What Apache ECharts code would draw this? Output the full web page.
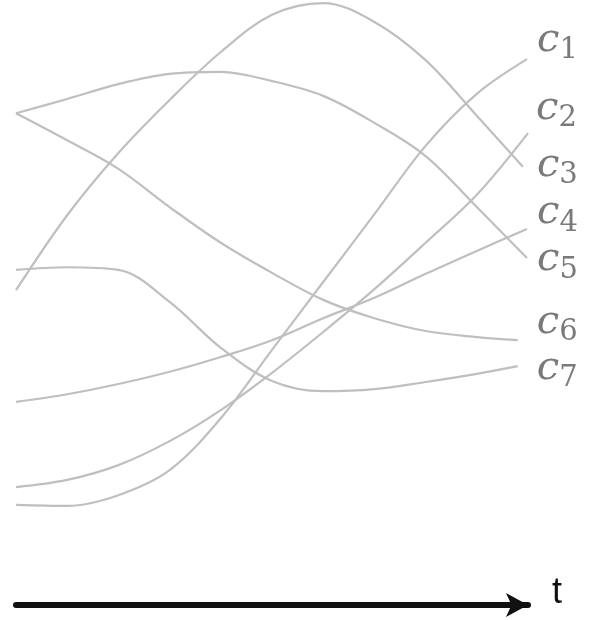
<!DOCTYPE html>
<html>
<head>
<meta charset="utf-8">
<script src="https://cdn.jsdelivr.net/npm/echarts@6/dist/echarts.min.js"></script>
<style>
  html, body { margin: 0; padding: 0; background: #fff; }
  #chart { width: 590px; height: 620px; }
</style>
</head>
<body>
<div id="chart"></div>
<script>
// t steps shared by the curves (c3, c5, c6, c7 stop a bit short of 10)
const t = [0, 1, 2, 3, 4, 5, 6, 7, 8, 9, 10]
const c1 = [0.10, 0.08, 0.29, 0.78, 1.80, 3.14, 4.47, 5.80, 7.14, 8.16, 8.84]
const c2 = [0.45, 0.59, 0.88, 1.35, 1.96, 2.69, 3.49, 4.33, 5.24, 6.18, 7.39]
const c3 = [4.31, 5.78, 7.00, 8.04, 8.98, 9.71, 9.94, 9.57, 8.82, 7.73, 6.73]
const c4 = [2.12, 2.27, 2.47, 2.71, 3.00, 3.33, 3.76, 4.16, 4.63, 5.08, 5.51]
const c5 = [7.78, 8.06, 8.35, 8.55, 8.59, 8.41, 8.12, 7.59, 6.94, 5.94, 4.94]
const c6 = [7.78, 7.25, 6.69, 5.94, 5.24, 4.65, 4.12, 3.76, 3.51, 3.39, 3.33]
const c7 = [4.71, 4.76, 4.71, 4.08, 3.18, 2.53, 2.33, 2.37, 2.51, 2.67, 2.82]
// last t of each curve
const tEnd = [9.98, 10, 9.9, 9.98, 9.98, 9.8, 9.8]

const curves = [c1, c2, c3, c4, c5, c6, c7]
const names = ['1', '2', '3', '4', '5', '6', '7']
// where each label sits relative to the end of its line
const labelOffsets = [[10, -19], [8, -25], [14, -1], [10, -16], [10, 2], [19, -18], [19, 2]]

const chart = echarts.init(document.getElementById('chart'))

const series = curves.map((vals, i) => ({
  type: 'line',
  data: vals.map((v, j) => [j === vals.length - 1 ? tEnd[i] : t[j], v]),
  smooth: 0.35,
  showSymbol: false,
  clip: false,
  silent: true,
  lineStyle: { color: '#bfbfbf', width: 2.2 },
  endLabel: {
    show: true,
    distance: 0,
    offset: labelOffsets[i],
    formatter: '{c|c}{s|' + names[i] + '}',
    rich: {
      c: {
        fontFamily: 'DejaVu Serif',
        fontStyle: 'italic',
        fontSize: 40,
        color: '#7a7a7a',
      },
      s: {
        fontFamily: 'DejaVu Serif',
        fontSize: 29,
        color: '#7a7a7a',
        padding: [20, 0, 0, 0],
      },
    },
  },
}))

chart.setOption({
  animation: false,
  grid: { left: 16, right: 62, top: 0, bottom: 110 },
  xAxis: {
    type: 'value',
    min: 0,
    max: 10,
    offset: 95,
    axisLine: {
      show: true,
      onZero: false,
      symbol: ['none', 'arrow'],
      symbolSize: [18, 22],
      symbolOffset: [0, 0],
      lineStyle: { color: '#111', width: 6 },
    },
    axisTick: { show: false },
    axisLabel: { show: false },
    splitLine: { show: false },
    name: 't',
    nameLocation: 'end',
    nameGap: 24,
    nameTextStyle: {
      fontFamily: 'Liberation Sans',
      fontSize: 36,
      color: '#111',
      verticalAlign: 'bottom',
      lineHeight: 24,
    },
  },
  yAxis: {
    type: 'value',
    min: 0,
    max: 10,
    show: false,
  },
  series: series,
})
</script>
</body>
</html>
